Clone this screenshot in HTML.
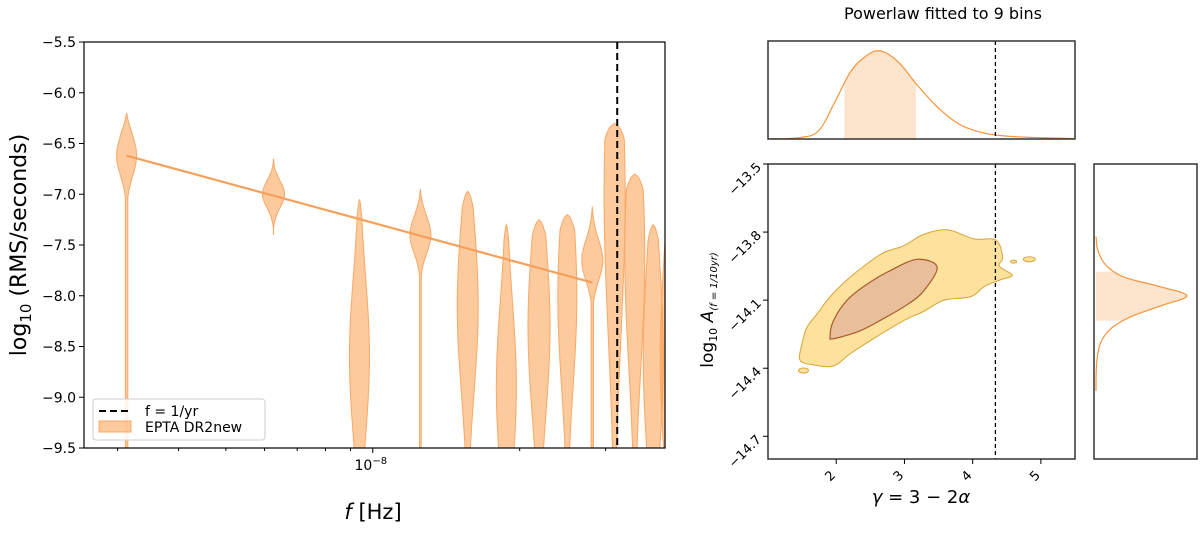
<!DOCTYPE html>
<html><head><meta charset="utf-8"><style>
body{margin:0;background:#fff;}
svg text{font-family:"DejaVu Sans","Liberation Sans",sans-serif;fill:#000;}
</style></head><body>
<svg id="s" width="1200" height="530" viewBox="0 0 1200 530" xmlns="http://www.w3.org/2000/svg"></svg>
<script>
// ---- Left panel data ----
const binK = [1,2,3,4,5,6,7,8,9,10,11,12,13];
const violinTop = [-6.2,-6.65,-7.05,-6.95,-6.97,-7.3,-7.25,-7.2,-7.12,-6.3,-6.8,-7.3,-7.2];
const violinMode = [-6.62,-7.0,-8.6,-7.4,-8.1,-8.9,-8.3,-8.0,-7.65,-7.0,-7.6,-8.6,-8.6];
const violinSigma = [0.2,0.13,0.8,0.18,0.85,0.85,0.9,0.9,0.2,1.4,1.1,1.0,1.0];
const violinBottom = [-9.5,-7.4,-9.5,-9.5,-9.5,-9.5,-9.5,-9.5,-9.5,-9.5,-9.5,-9.5,-9.5];
const violinTail = [1.2,0,0,0.8,0,0,0,0,1.2,0,0,0,0];
const violinHalfW = [10,11,10,10.5,10.5,10,11,9.5,10.5,10.5,10,10,10];
const fitK = [1,9];
const fitVal = [-6.62,-7.87];
const yTicksL = [-5.5,-6.0,-6.5,-7.0,-7.5,-8.0,-8.5,-9.0,-9.5];
// ---- Right panel data ----
const outerG = [1.47,1.50,1.57,1.72,1.91,2.16,2.45,2.70,2.99,3.28,3.63,4.02,4.34,4.44,4.39,4.58,4.41,4.17,3.97,3.58,3.28,2.99,2.60,2.21,1.96,1.67];
const outerA = [-14.365,-14.29,-14.22,-14.16,-14.085,-14.01,-13.94,-13.89,-13.86,-13.81,-13.79,-13.83,-13.835,-13.91,-13.95,-13.99,-14.01,-14.04,-14.085,-14.10,-14.15,-14.19,-14.26,-14.335,-14.39,-14.385];
const innerG = [1.91,1.96,2.16,2.45,2.79,3.19,3.48,3.28,3.04,2.70,2.35,1.96];
const innerA = [-14.26,-14.19,-14.10,-14.03,-13.97,-13.92,-13.955,-14.06,-14.12,-14.18,-14.235,-14.27];
const margG = [1.0,1.5,1.75,2.0,2.2,2.4,2.63,2.9,3.2,3.5,3.8,4.1,4.4,4.8,5.5];
const margGd = [0,0.02,0.1,0.45,0.75,0.92,1.0,0.88,0.6,0.35,0.17,0.08,0.04,0.02,0.005];
const gBand = [2.12,3.17];
const margA = [-13.82,-13.88,-13.95,-14.0,-14.04,-14.08,-14.12,-14.17,-14.22,-14.28,-14.35,-14.42,-14.5];
const margAd = [0,0.02,0.12,0.32,0.7,1.0,0.75,0.4,0.18,0.06,0.015,0.002,0];
const aBand = [-13.975,-14.19];
const gTicks = [2,3,4,5];
const aTicks = [-13.5,-13.8,-14.1,-14.4,-14.7];
const gammaRef = 13/3;

const NS="http://www.w3.org/2000/svg", svg=document.getElementById('s');
function mk(tag,attrs,parent){const e=document.createElementNS(NS,tag);for(const k in attrs)e.setAttribute(k,attrs[k]);(parent||svg).appendChild(e);return e;}
function interp(xs,ys,x){for(let i=0;i<xs.length-1;i++){const a=xs[i],b=xs[i+1];if((x-a)*(x-b)<=0){const f=(x-a)/(b-a||1);return ys[i]+f*(ys[i+1]-ys[i]);}}return 0;}
// Monotone-ish smooth interpolation (Catmull-Rom on data)
function smooth(xs,ys,x){
  let i=0;while(i<xs.length-2&&!((x-xs[i])*(x-xs[i+1])<=0))i++;
  const x0=xs[i],x1=xs[i+1],t=(x-x0)/((x1-x0)||1);
  const y0=ys[i],y1=ys[i+1],ym=ys[Math.max(0,i-1)],yp=ys[Math.min(ys.length-1,i+2)];
  const xm=xs[Math.max(0,i-1)],xp=xs[Math.min(xs.length-1,i+2)];
  const m0=(y1-ym)/((x1-xm)||1)*(x1-x0),m1=(yp-y0)/((xp-x0)||1)*(x1-x0);
  const t2=t*t,t3=t2*t;
  return Math.max(0,(2*t3-3*t2+1)*y0+(t3-2*t2+t)*m0+(-2*t3+3*t2)*y1+(t3-t2)*m1);
}
function closedPath(pts){
  const n=pts.length;let d='M'+pts[0].join(',');
  for(let i=0;i<n;i++){const p0=pts[(i-1+n)%n],p1=pts[i],p2=pts[(i+1)%n],p3=pts[(i+2)%n];
    const c1=[p1[0]+(p2[0]-p0[0])/6,p1[1]+(p2[1]-p0[1])/6],c2=[p2[0]-(p3[0]-p1[0])/6,p2[1]-(p3[1]-p1[1])/6];
    d+=' C'+c1.join(',')+' '+c2.join(',')+' '+p2.join(',');}
  return d+'Z';
}

// Left axes
const L={x0:84,x1:665,y0:42,y1:448};
const f1=3.13e-9, fmin=2.56e-9, fmax=3.97e-8;
const xL=f=>L.x0+(Math.log10(f)-Math.log10(fmin))/(Math.log10(fmax)-Math.log10(fmin))*(L.x1-L.x0);
const yL=v=>L.y0+(-5.5-v)/4*(L.y1-L.y0);
mk('defs',{}).innerHTML='<clipPath id="cl"><rect x="84" y="42" width="581" height="406"/></clipPath><clipPath id="cm"><rect x="768" y="164" width="307" height="295"/></clipPath>';
const gV=mk('g',{'clip-path':'url(#cl)'});


binK.forEach((k,i)=>{
  const cx=xL(k*f1);let L1=[],R=[];
  const n=80;
  for(let j=0;j<=n;j++){
    const v=violinTop[i]+(violinBottom[i]-violinTop[i])*j/n;
    let w=violinHalfW[i]*Math.exp(-Math.pow((v-violinMode[i])/violinSigma[i],2)/2);
    const edge=Math.min(1,Math.abs(v-violinTop[i])/0.15);
    if(v<violinMode[i]) w=Math.max(w,violinTail[i]);
    if(violinBottom[i]>-9.4){w*=Math.min(1,Math.abs(v-violinBottom[i])/0.15);}
    w*=Math.sqrt(edge);
    L1.push([cx-w,yL(v)]);R.push([cx+w,yL(v)]);
  }
  const pts=L1.concat(R.reverse()).map(p=>p.join(',')).join(' ');
  const p=mk('polygon',{points:pts,fill:'rgba(252,150,60,0.5)',stroke:'#f9a865','stroke-width':1},gV);
  
  
});
const fit=mk('line',{x1:xL(fitK[0]*f1),y1:yL(fitVal[0]),x2:xL(fitK[1]*f1),y2:yL(fitVal[1]),stroke:'#f5a05a','stroke-width':2.2});


const fyr=1/(365.25*86400);
const dl=mk('line',{x1:xL(fyr),x2:xL(fyr),y1:L.y0,y2:L.y1,stroke:'#000','stroke-width':2,'stroke-dasharray':'7,4'});


const frL=mk('rect',{x:L.x0,y:L.y0,width:L.x1-L.x0,height:L.y1-L.y0,fill:'none',stroke:'#000','stroke-width':1.2});


yTicksL.forEach(v=>{const y=yL(v);mk('line',{x1:L.x0-5,x2:L.x0,y1:y,y2:y,stroke:'#000'});
  const t=mk('text',{x:L.x0-8,y:y+5,'text-anchor':'end','font-size':14});t.textContent=(v.toFixed(1)).replace('-','−');
  
  });
for(let m=3;m<=9;m++){const x=xL(m*1e-9);mk('line',{x1:x,x2:x,y1:L.y1,y2:L.y1+3,stroke:'#000'});}
for(let m=2;m<=3;m++){const x=xL(m*1e-8);mk('line',{x1:x,x2:x,y1:L.y1,y2:L.y1+3,stroke:'#000'});}
mk('line',{x1:xL(1e-8),x2:xL(1e-8),y1:L.y1,y2:L.y1+5,stroke:'#000'});
let t=mk('text',{x:xL(1e-8)-2,y:L.y1+22,'text-anchor':'middle','font-size':14});t.innerHTML='10<tspan dy="-6" font-size="10">−8</tspan>';


t=mk('text',{x:373,y:519,'text-anchor':'middle','font-size':21});t.innerHTML='<tspan font-style="italic">f</tspan> [Hz]';


t=mk('text',{x:0,y:0,'text-anchor':'middle','font-size':22,transform:'translate(26,245) rotate(-90)'});t.innerHTML='log<tspan dy="5" font-size="15">10</tspan><tspan dy="-5">  (RMS/seconds)</tspan>';


const lg=mk('g',{});


mk('rect',{x:93,y:399,width:172,height:41,rx:3,fill:'rgba(255,255,255,0.85)',stroke:'#ccc'},lg);
mk('line',{x1:99,x2:131,y1:411,y2:411,stroke:'#000','stroke-width':2,'stroke-dasharray':'7,4'},lg);
mk('rect',{x:99,y:421,width:32,height:11,fill:'rgba(252,150,60,0.5)',stroke:'#f9a865'},lg);
t=mk('text',{x:145,y:416,'font-size':14},lg);t.textContent='f = 1/yr';
t=mk('text',{x:145,y:432,'font-size':14},lg);t.textContent='EPTA DR2new';

// Right panels
const M={x0:768,x1:1075,y0:164,y1:459};
const xg=g=>M.x0+(g-1)/4.5*(M.x1-M.x0);
const yA=a=>M.y0+(-13.5-a)/1.3*(M.y1-M.y0);
const T={y0:41,y1:139}, RM={x0:1094,x1:1197};
t=mk('text',{x:943,y:19,'text-anchor':'middle','font-size':16});t.textContent='Powerlaw fitted to 9 bins';


// top marginal
const yT=d=>T.y1-d*0.9*(T.y1-T.y0);
let band=[],curve=[];
for(let g=gBand[0];g<=gBand[1]+1e-9;g+=0.01){band.push([xg(g),yT(smooth(margG,margGd,g))]);}
for(let g=margG[0];g<=margG[margG.length-1]+1e-9;g+=0.02){curve.push([xg(g),yT(smooth(margG,margGd,g))]);}
let bp=mk('polygon',{points:[[xg(gBand[0]),T.y1]].concat(band,[[xg(gBand[1]),T.y1]]).map(p=>p.join(',')).join(' '),fill:'#fde4cc'});


let cp=mk('polyline',{points:curve.map(p=>p.join(',')).join(' '),fill:'none',stroke:'#f7943a','stroke-width':1.2,'stroke-linejoin':'round'});


mk('line',{x1:xg(gammaRef),x2:xg(gammaRef),y1:T.y0,y2:T.y1,stroke:'#000','stroke-width':1.3,'stroke-dasharray':'4,3'});
let fr=mk('rect',{x:M.x0,y:T.y0,width:M.x1-M.x0,height:T.y1-T.y0,fill:'none',stroke:'#333','stroke-width':1.5});


// main contour
const gC=mk('g',{'clip-path':'url(#cm)'});


let op=mk('path',{d:closedPath(outerG.map((g,i)=>[xg(g),yA(outerA[i])])),fill:'#fde29e',stroke:'#d7a437','stroke-width':1,'stroke-linejoin':'round'},gC);


mk('ellipse',{cx:xg(1.52),cy:yA(-14.41),rx:5,ry:2.5,fill:'#fde29e',stroke:'#d7a437'},gC);
mk('ellipse',{cx:xg(4.83),cy:yA(-13.92),rx:6,ry:2.5,fill:'#fde29e',stroke:'#d7a437'},gC);
mk('ellipse',{cx:xg(4.6),cy:yA(-13.93),rx:3,ry:1.5,fill:'#fde29e',stroke:'#d7a437'},gC);
let ip=mk('path',{d:closedPath(innerG.map((g,i)=>[xg(g),yA(innerA[i])])),fill:'#e8bf9a',stroke:'#a85a2a','stroke-width':1.2,'stroke-linejoin':'round'},gC);


mk('line',{x1:xg(gammaRef),x2:xg(gammaRef),y1:M.y0,y2:M.y1,stroke:'#000','stroke-width':1.3,'stroke-dasharray':'4,3'});
fr=mk('rect',{x:M.x0,y:M.y0,width:M.x1-M.x0,height:M.y1-M.y0,fill:'none',stroke:'#333','stroke-width':1.5});


gTicks.forEach(g=>{const x=xg(g);mk('line',{x1:x,x2:x,y1:M.y1,y2:M.y1+5,stroke:'#000'});
  const tt=mk('text',{x:0,y:0,'text-anchor':'middle','font-size':13,transform:`translate(${x-3},${M.y1+20}) rotate(-45)`});tt.textContent=g;
  
  });
aTicks.forEach(a=>{const y=yA(a);mk('line',{x1:M.x0-5,x2:M.x0,y1:y,y2:y,stroke:'#000'});
  const tt=mk('text',{x:0,y:0,'text-anchor':'end','font-size':13,transform:`translate(${M.x0-6},${y+4}) rotate(-45)`});tt.textContent=a.toFixed(1).replace('-','−');
  
  });
t=mk('text',{x:921,y:503,'text-anchor':'middle','font-size':18});t.innerHTML='<tspan font-style="italic">γ</tspan> = 3 − 2<tspan font-style="italic">α</tspan>';


t=mk('text',{x:0,y:0,'text-anchor':'middle','font-size':17,transform:'translate(713,310) rotate(-90)'});t.innerHTML='log<tspan dy="4" font-size="11">10</tspan><tspan dy="-4" font-style="italic"> A</tspan><tspan dy="4" font-size="10" font-style="italic">(f = 1/10yr)</tspan>';


// right marginal
const xR=d=>RM.x0+2+d*(RM.x1-RM.x0-12);
let rb=[],rc=[];
for(let a=aBand[0];a>=aBand[1]-1e-9;a-=0.005){rb.push([xR(smooth(margA.map(v=>-v),margAd,-a)),yA(a)]);}
for(let a=margA[0];a>=margA[margA.length-1]-1e-9;a-=0.005){rc.push([xR(smooth(margA.map(v=>-v),margAd,-a)),yA(a)]);}
bp=mk('polygon',{points:[[RM.x0+2,yA(aBand[0])]].concat(rb,[[RM.x0+2,yA(aBand[1])]]).map(p=>p.join(',')).join(' '),fill:'#fde4cc'});


cp=mk('polyline',{points:rc.map(p=>p.join(',')).join(' '),fill:'none',stroke:'#f7943a','stroke-width':1.2,'stroke-linejoin':'round'});


fr=mk('rect',{x:RM.x0,y:M.y0,width:RM.x1-RM.x0,height:M.y1-M.y0,fill:'none',stroke:'#333','stroke-width':1.5});


</script>
</body></html>
